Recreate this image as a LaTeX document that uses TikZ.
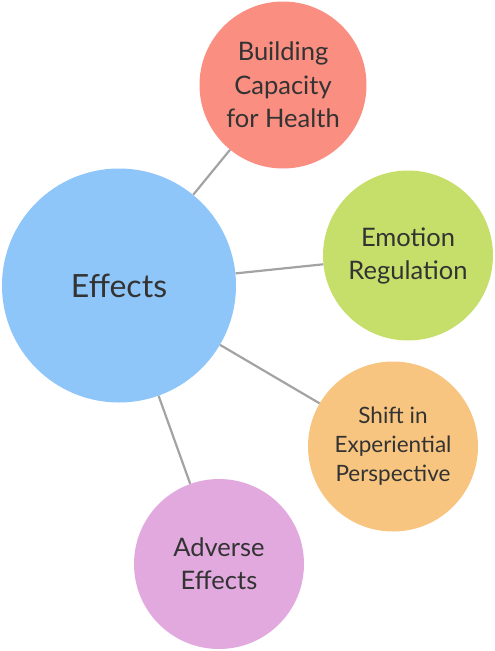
\documentclass[tikz,border=0pt]{standalone}
\usepackage{fontspec}
\setmainfont{Lato}
\definecolor{cblue}{HTML}{8EC6FA}
\definecolor{cred}{HTML}{F98E81}
\definecolor{cgreen}{HTML}{C6DF6A}
\definecolor{corange}{HTML}{F7C57F}
\definecolor{cpurple}{HTML}{E1A9DD}
\definecolor{ctext}{HTML}{333333}
\definecolor{cline}{HTML}{A3A3A3}
\begin{document}
\begin{tikzpicture}[x=1pt,y=-1pt,
  bubble/.style={circle,inner sep=0pt,draw=none,text=ctext,align=center},
  link/.style={draw=cline,line width=2.2pt}]
\useasboundingbox (0,0) rectangle (495,651);
\node[bubble,fill=cblue,minimum size=234pt,font=\fontsize{32}{33}\selectfont] (eff) at (119,285.5) {Effects};
\node[bubble,fill=cred,minimum size=167pt,font=\fontsize{25.5}{33.5}\selectfont] (bch) at (283,85) {Building\\Capacity\\for Health};
\node[bubble,fill=cgreen,minimum size=170pt,font=\fontsize{25.5}{33}\selectfont] (emo) at (408,255.5) {Emotion\\Regulation};
\node[bubble,fill=corange,minimum size=170pt,font=\fontsize{22.5}{29}\selectfont] (shi) at (393,446.5) {Shift in\\Experiential\\Perspective};
\node[bubble,fill=cpurple,minimum size=170pt,font=\fontsize{25.5}{33}\selectfont] (adv) at (219,564) {Adverse\\Effects};
\draw[link] (eff) -- (bch);
\draw[link] (eff) -- (emo);
\draw[link] (eff) -- (shi);
\draw[link] (eff) -- (adv);
\end{tikzpicture}
\end{document}
